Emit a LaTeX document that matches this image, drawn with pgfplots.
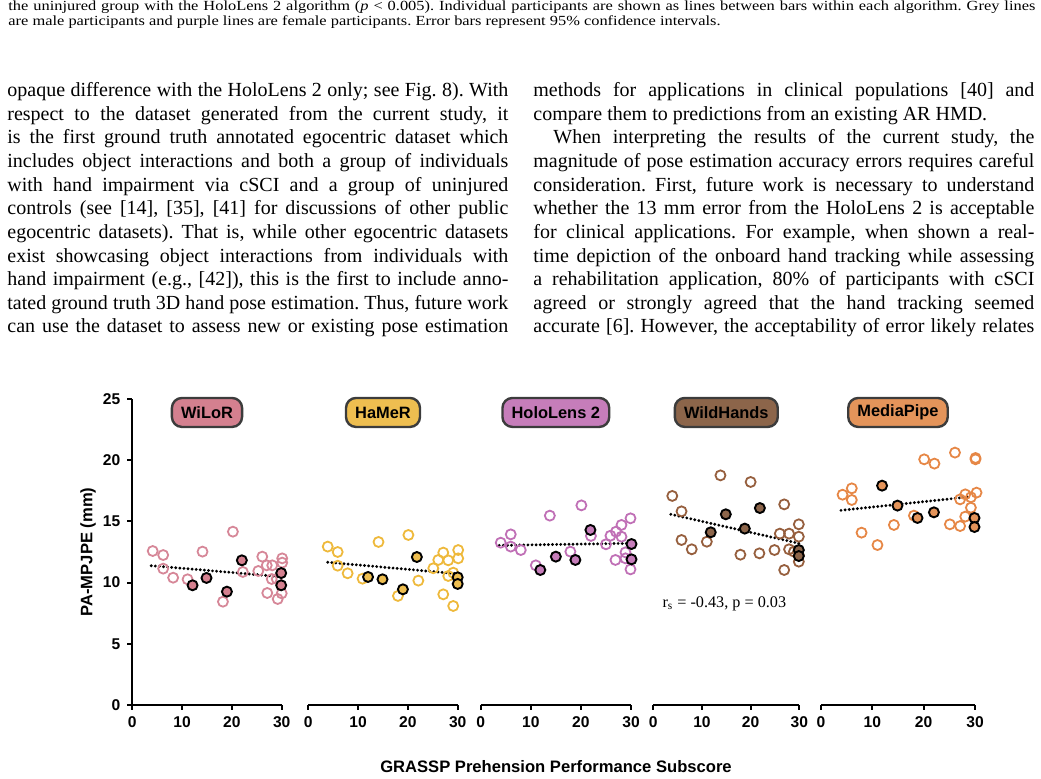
\documentclass[border=0pt]{standalone}
\usepackage{graphicx}
\usepackage{fontspec}
\setmainfont{Liberation Serif}
\setsansfont{Liberation Sans}
\usepackage{pgfplots}
\pgfplotsset{compat=1.18}
\frenchspacing

\definecolor{cWi}{RGB}{212,128,143}
\definecolor{mWi}{RGB}{214,135,152}
\definecolor{cHa}{RGB}{238,190,80}
\definecolor{mHa}{RGB}{238,185,60}
\definecolor{cHo}{RGB}{198,125,186}
\definecolor{mHo}{RGB}{192,112,182}
\definecolor{cWH}{RGB}{140,101,74}
\definecolor{mWH}{RGB}{150,95,62}
\definecolor{cMP}{RGB}{228,148,90}
\definecolor{mMP}{RGB}{230,135,70}
\definecolor{boxedge}{RGB}{60,60,60}

\tikzset{
  ttl/.style={draw=boxedge, line width=1.2pt, rounded corners=5pt, fill=#1, inner xsep=4.6pt, minimum height=14.5pt, font=\sffamily\bfseries\fontsize{8.2}{9}\selectfont, text=black},
}
\pgfplotsset{
  panel/.style={
    scale only axis, height=153pt,
    xmin=0, xmax=30, ymin=0, ymax=25,
    enlargelimits=false, clip=false,
    axis x line*=bottom, axis y line*=left,
    axis line style={line width=1pt,-,black},
    xtick={0,10,20,30}, ytick={0,5,10,15,20,25},
    tick align=outside, major tick length=2.5pt,
    tick style={line width=1pt,black},
    ticklabel style={font=\sffamily\bfseries\fontsize{7.8}{8}\selectfont},
    /pgf/number format/assume math mode=true,
    anchor=south west,
  },
  openpts/.style={only marks, mark=o, mark size=2.5pt, mark options={draw=#1, line width=0.9pt}},
  fillpts/.style={only marks, mark=*, mark size=2.5pt, mark options={fill=#1, draw=black, line width=0.95pt}},
  trend/.style={black, line width=1.6pt, dash pattern=on 0pt off 2.05pt, line cap=round},
}

\newcommand\Lline[3]{\node[anchor=base west,inner sep=0pt,font=\fontsize{10}{12}\selectfont] at (#1,#2) {\makebox[250.5pt][s]{#3}};}
\newcommand\Rline[3]{\node[anchor=base west,inner sep=0pt,font=\fontsize{10}{12}\selectfont] at (#1,#2) {\makebox[250.5pt][l]{#3}};}

\begin{document}
\begin{tikzpicture}[x=0.5pt,y=-0.5pt]
\useasboundingbox (0,0) rectangle (1041,779);

% caption fragment
\node[anchor=base west,inner sep=0pt,font=\fontsize{8.2}{9}\selectfont] at (8,11) {\scalebox{1}[0.85]{\makebox[513.5pt][s]{the uninjured group with the HoloLens 2 algorithm (\textit{p} < 0.005). Individual participants are shown as lines between bars within each algorithm. Grey lines}}};
\node[anchor=base west,inner sep=0pt,font=\fontsize{8.2}{9}\selectfont] at (8,26) {\scalebox{1}[0.85]{are male participants and purple lines are female participants. Error bars represent 95\% confidence intervals.}};

% left column
\Lline{7}{96.5}{opaque difference with the HoloLens 2 only; see Fig. 8). With}
\Lline{7}{120.15}{respect to the dataset generated from the current study, it}
\Lline{7}{143.8}{is the first ground truth annotated egocentric dataset which}
\Lline{7}{167.45}{includes object interactions and both a group of individuals}
\Lline{7}{191.1}{with hand impairment via cSCI and a group of uninjured}
\Lline{7}{214.75}{controls (see [14], [35], [41] for discussions of other public}
\Lline{7}{238.4}{egocentric datasets). That is, while other egocentric datasets}
\Lline{7}{262.05}{exist showcasing object interactions from individuals with}
\Lline{7}{285.7}{hand impairment (e.g., [42]), this is the first to include anno-}
\Lline{7}{309.35}{tated ground truth 3D hand pose estimation. Thus, future work}
\Lline{7}{333.0}{can use the dataset to assess new or existing pose estimation}

% right column
\Lline{533}{96.5}{methods for applications in clinical populations [40] and}
\Rline{533}{120.15}{compare them to predictions from an existing AR HMD.}
\node[anchor=base west,inner sep=0pt,font=\fontsize{10}{12}\selectfont] at (553,143.8) {\makebox[240.5pt][s]{When interpreting the results of the current study, the}};
\Lline{533}{167.45}{magnitude of pose estimation accuracy errors requires careful}
\Lline{533}{191.1}{consideration. First, future work is necessary to understand}
\Lline{533}{214.75}{whether the 13 mm error from the HoloLens 2 is acceptable}
\Lline{533}{238.4}{for clinical applications. For example, when shown a real-}
\Lline{533}{262.05}{time depiction of the onboard hand tracking while assessing}
\Lline{533}{285.7}{a rehabilitation application, 80\% of participants with cSCI}
\Lline{533}{309.35}{agreed or strongly agreed that the hand tracking seemed}
\Lline{533}{333.0}{accurate [6]. However, the acceptability of error likely relates}

\coordinate (o1) at (132.3,705);
\coordinate (o2) at (308.3,705);
\coordinate (o3) at (480.7,705);
\coordinate (o4) at (653.3,705);
\coordinate (o5) at (821,705);

% Panel 1: WiLoR
\begin{axis}[panel, at={(o1)}, width=74.7pt]
\addplot[openpts=mWi] coordinates {(4.1,12.58) (6.2,12.25) (6.2,11.14) (8.2,10.40) (11.1,10.27) (14.1,12.53) (20.2,14.16) (18.2,8.44) (22.2,10.87) (25.3,10.95) (26.1,12.12) (27.0,11.41) (28.1,11.41) (28.0,10.29) (29.0,10.30) (27.1,9.15) (29.2,8.66) (30.1,11.98) (30.1,11.63) (30.0,9.12)};
\addplot[trend] coordinates {(3.8,11.38) (30.1,10.48)};
\addplot[fillpts=cWi] coordinates {(12.1,9.78) (14.9,10.38) (19.0,9.26) (22.0,11.82) (29.9,10.78) (29.9,9.78)};
\node[ttl=cWi] at (axis cs:15,23.9) {WiLoR};
\end{axis}

% Panel 2: HaMeR
\begin{axis}[panel, at={(o2)}, width=74.7pt, hide y axis]
\addplot[openpts=mHa] coordinates {(3.9,12.94) (5.9,12.50) (5.9,11.38) (7.9,10.76) (10.9,10.32) (14.1,13.32) (20.1,13.89) (18.0,8.91) (22.1,10.16) (25.1,11.17) (26.1,11.85) (27.1,12.45) (28.1,11.82) (27.1,9.04) (28.1,10.54) (29.1,10.81) (29.1,8.09) (30.1,12.66) (30.1,11.98)};
\addplot[trend] coordinates {(3.9,11.66) (29.8,10.73)};
\addplot[fillpts=cHa] coordinates {(12.0,10.46) (14.9,10.27) (19.0,9.45) (21.8,12.09) (30.0,10.43) (30.0,9.89)};
\node[ttl=cHa] at (axis cs:15,23.9) {HaMeR};
\end{axis}

% Panel 3: HoloLens 2
\begin{axis}[panel, at={(o3)}, width=75.15pt, hide y axis]
\addplot[openpts=mHo] coordinates {(4.0,13.26) (6.0,13.94) (6.0,12.94) (8.0,12.66) (11.0,11.41) (13.8,15.47) (20.1,16.31) (17.9,12.53) (22.0,13.81) (25.0,13.13) (25.9,13.83) (27.0,14.16) (28.1,14.71) (28.1,13.75) (26.9,11.85) (28.9,12.47) (28.9,11.98) (29.9,15.25) (29.9,11.08)};
\addplot[trend] coordinates {(3.7,13.04) (29.9,13.21)};
\addplot[fillpts=cHo] coordinates {(11.9,11.03) (15.0,12.12) (18.9,11.85) (21.9,14.30) (30.1,13.15) (30.1,11.90)};
\node[ttl=cHo] at (axis cs:15,23.9) {HoloLens 2};
\end{axis}

% Panel 4: WildHands
\begin{axis}[panel, at={(o4)}, width=73pt, hide y axis]
\addplot[openpts=mWH] coordinates {(3.9,17.08) (5.8,15.82) (5.8,13.48) (7.9,12.72) (11.0,13.34) (13.8,18.76) (20.0,18.22) (17.9,12.28) (21.8,12.39) (24.9,12.66) (26.0,14.00) (26.9,16.39) (27.9,14.00) (27.9,12.72) (26.9,11.03) (28.9,12.53) (29.9,14.76) (29.9,13.75) (29.9,11.71) (29.9,12.25)};
\addplot[trend] coordinates {(3.6,15.58) (29.9,13.21)};
\addplot[fillpts=cWH] coordinates {(11.8,14.11) (14.9,15.58) (18.8,14.41) (21.9,16.09) (29.9,12.66) (29.9,12.17)};
\node[ttl=cWH] at (axis cs:15,23.9) {WildHands};
\node[font=\fontsize{8.1}{9}\selectfont, inner sep=0pt] at (axis cs:14.6,8.3) {r\textsubscript{s} = -0.43, p = 0.03};
\end{axis}

% Panel 5: MediaPipe
\begin{axis}[panel, at={(o5)}, width=77pt, hide y axis]
\addplot[openpts=mMP] coordinates {(4.2,17.18) (6.0,17.70) (6.0,16.75) (7.9,14.08) (11.0,13.07) (14.2,14.71) (20.1,20.07) (22.1,19.72) (18.1,15.47) (25.1,14.76) (26.1,20.62) (27.1,16.80) (27.1,14.62) (28.1,17.21) (28.1,15.39) (29.2,16.12) (29.2,16.97) (30.1,20.18) (30.1,20.07) (30.3,17.35)};
\addplot[trend] coordinates {(3.9,15.90) (29.2,17.02)};
\addplot[fillpts=cMP] coordinates {(11.9,17.92) (14.9,16.29) (18.8,15.28) (22.0,15.74) (29.9,15.28) (29.9,14.54)};
\node[ttl=cMP] at (axis cs:15,23.9) {MediaPipe};
\end{axis}

\node[rotate=90, font=\sffamily\bfseries\fontsize{8.3}{9}\selectfont] at (88,552) {PA-MPJPE (mm)};
\node[font=\sffamily\bfseries\fontsize{8.3}{9}\selectfont] at (556,767) {GRASSP Prehension Performance Subscore};
\end{tikzpicture}
\end{document}
